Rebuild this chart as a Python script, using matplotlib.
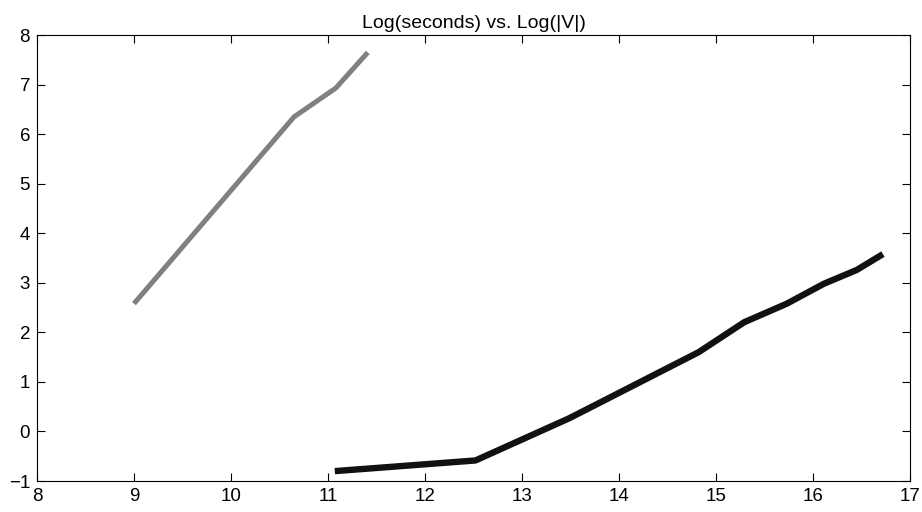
import matplotlib
matplotlib.use('Agg')
import matplotlib.pyplot as plt

plt.rcParams['font.family'] = ['Liberation Sans', 'DejaVu Sans']

# gray series
x_gray = [9.0, 10.65, 11.08, 11.41]
y_gray = [2.58, 6.35, 6.93, 7.65]

# black series
x_black = [11.07, 12.52, 13.49, 14.17, 14.82, 15.29, 15.73, 16.11, 16.45, 16.72]
y_black = [-0.80, -0.585, 0.27, 0.95, 1.60, 2.205, 2.58, 2.98, 3.26, 3.58]

fig = plt.figure(figsize=(9.22, 5.12), dpi=100)
ax = fig.add_axes([0.0401, 0.0605, 0.947, 0.871])

ax.plot(x_gray, y_gray, color='#808080', linewidth=3.6, solid_capstyle='butt')
ax.plot(x_black, y_black, color='#111111', linewidth=4.6, solid_capstyle='butt')

ax.set_xlim(8, 17)
ax.set_ylim(-1, 8)
ax.set_xticks(range(8, 18))
ax.set_yticks(range(-1, 9))
ax.tick_params(direction='in', length=6, labelsize=13.5, pad=5,
               top=True, right=True)
ax.set_title('Log(seconds) vs. Log(|V|)', fontsize=14, pad=5)

fig.savefig('out.png', dpi=100)
